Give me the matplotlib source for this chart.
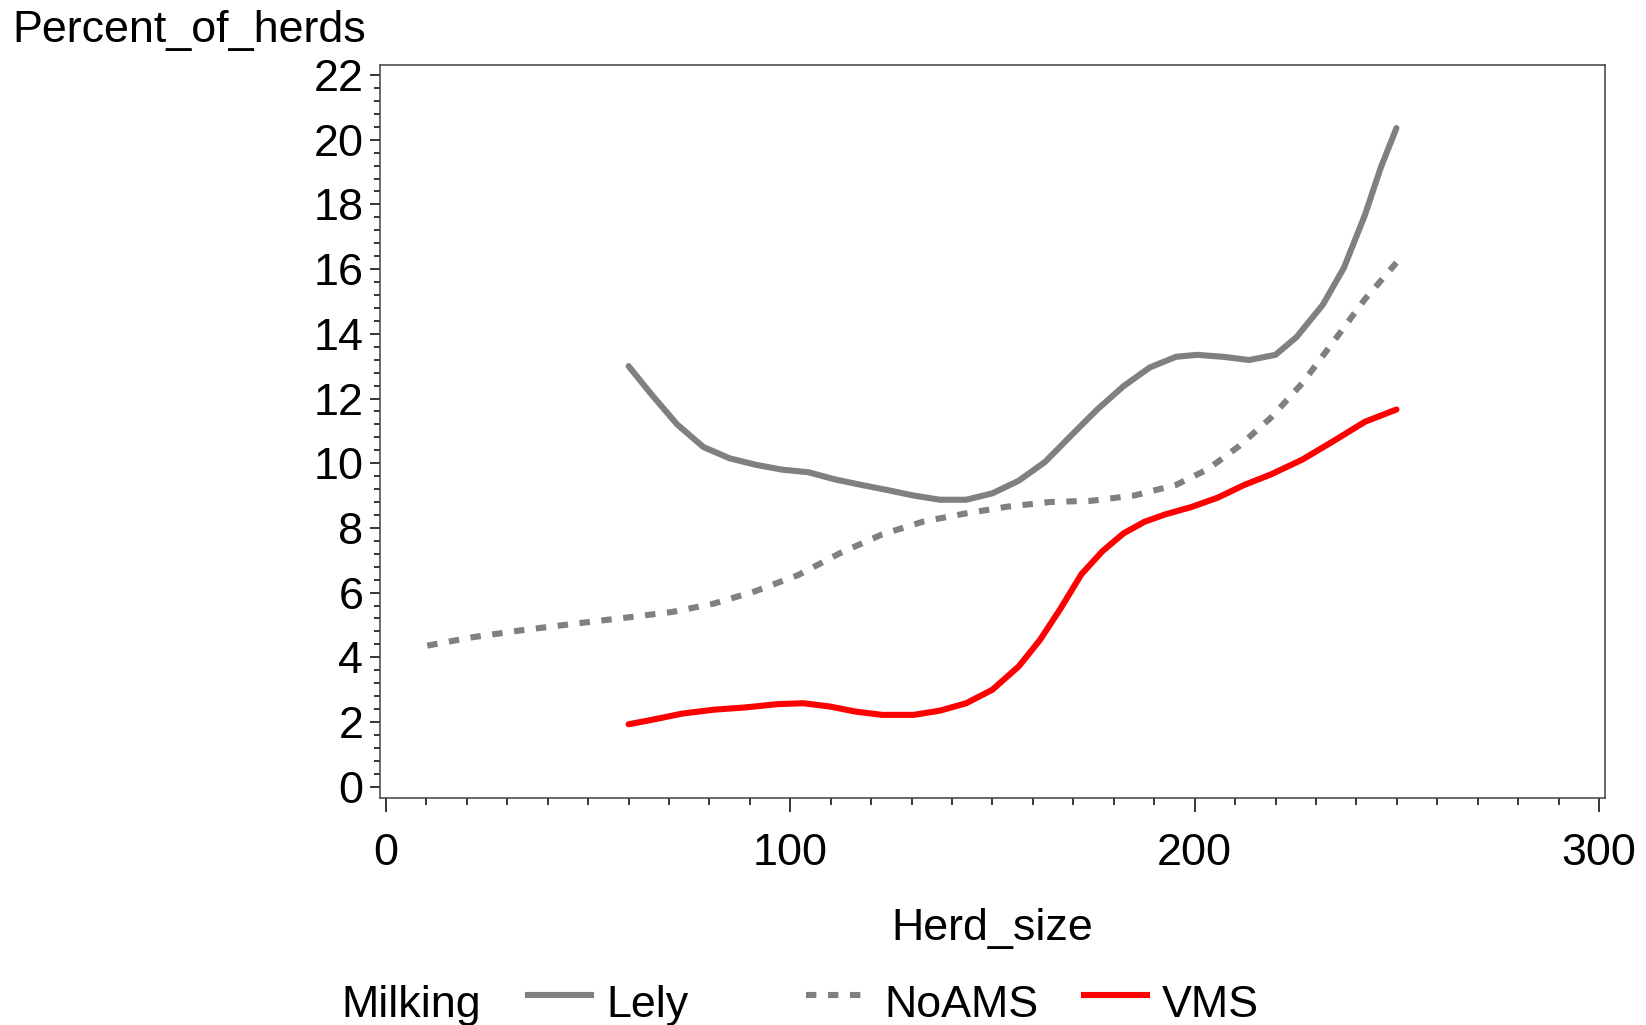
import matplotlib
matplotlib.use("Agg")
import matplotlib.pyplot as plt
from matplotlib.lines import Line2D
from matplotlib.ticker import MultipleLocator

plt.rcParams['font.family'] = ['Liberation Sans', 'DejaVu Sans']

# values
lely_x = [60, 65.5, 72, 78.5, 85, 91.5, 98, 104.5, 111, 117.5, 124, 130.5, 137, 143.5,
          150, 156.5, 163, 169.4, 175.9, 182.4, 188.9, 195.4, 200.6, 207, 213.5, 220,
          225.2, 231.7, 236.9, 242.1, 246, 249.9]
lely_y = [13.0, 12.15, 11.2, 10.5, 10.15, 9.95, 9.8, 9.72, 9.5, 9.33, 9.17, 9.0, 8.87, 8.87,
          9.07, 9.46, 10.04, 10.85, 11.66, 12.38, 12.96, 13.29, 13.35, 13.29, 13.19, 13.35,
          13.9, 14.9, 16.04, 17.67, 19.13, 20.36]

noams_x = [10.2, 21.4, 34.4, 47.4, 60.3, 70.7, 81.1, 91.5, 101.9, 112.3, 122.7, 133,
           143.5, 153.9, 164.2, 174.6, 185, 195.4, 203.2, 211, 218.8, 226.6, 234.4,
           242.1, 249.9]
noams_y = [4.36, 4.62, 4.85, 5.05, 5.24, 5.40, 5.66, 6.05, 6.54, 7.22, 7.8, 8.2,
           8.45, 8.66, 8.8, 8.84, 9.0, 9.33, 9.81, 10.53, 11.4, 12.47, 13.77,
           15.07, 16.2]

vms_x = [60, 65.5, 73.3, 81.1, 88.9, 96.7, 103.2, 109.7, 116.2, 122.7, 130.5, 137, 143.5,
         150, 156.5, 161.7, 166.8, 172, 177.2, 182.4, 187.6, 192.8, 199.3, 205.8, 212.3,
         218.8, 226.6, 234.4, 242.1, 249.9]
vms_y = [1.93, 2.06, 2.26, 2.38, 2.45, 2.55, 2.58, 2.48, 2.32, 2.22, 2.22, 2.35, 2.58,
         3.0, 3.72, 4.53, 5.5, 6.57, 7.28, 7.83, 8.19, 8.42, 8.65, 8.94, 9.33,
         9.65, 10.11, 10.69, 11.28, 11.66]

series = [("Lely", lely_x, lely_y, "#808080", "-"),
          ("NoAMS", noams_x, noams_y, "#808080", (0, (1.7, 1.9))),
          ("VMS", vms_x, vms_y, "#ff0000", "-")]

W, H = 1646, 1025
fs = 32.3
lw = 4.4

fig = plt.figure(figsize=(W / 100, H / 100), dpi=100)
ax = fig.add_axes([380 / W, 1 - 798 / H, (1605 - 380) / W, (798 - 65) / H])

for name, xs, ys, col, ls in series:
    ax.plot(xs, ys, color=col, linestyle=ls, lw=lw, solid_capstyle='round',
            dash_capstyle='butt', solid_joinstyle='round')

ax.set_xlim(-1.48, 301.48)
ax.set_ylim(-0.35, 22.31)
ax.xaxis.set_major_locator(MultipleLocator(100))
ax.xaxis.set_minor_locator(MultipleLocator(10))
ax.yaxis.set_major_locator(MultipleLocator(2))
ax.yaxis.set_minor_locator(MultipleLocator(0.4))
ax.tick_params(axis='x', which='major', length=10, width=1.1, pad=15, labelsize=fs)
ax.tick_params(axis='x', which='minor', length=5, width=1.1)
ax.tick_params(axis='y', which='major', length=7, width=1.1, pad=5, labelsize=fs)
ax.tick_params(axis='y', which='minor', length=4, width=1.1)
for s in ax.spines.values():
    s.set_color('#404040')
    s.set_linewidth(1.1)

fig.text(12.6 / W, 1 - 42 / H, "Percent_of_herds", fontsize=fs, va='baseline', ha='left')
fig.text(992.5 / W, 1 - 940 / H, "Herd_size", fontsize=fs, va='baseline', ha='center')

# legend along the bottom
fig.text(341 / W, 1 - 1017 / H, "Milking", fontsize=fs, va='baseline', ha='left')
col_x = 528
for name, xs, ys, col, ls in series:
    fig.add_artist(Line2D([col_x / W, (col_x + 63) / W], [1 - 995 / H, 1 - 995 / H],
                          color=col, linestyle=ls, lw=lw, dash_capstyle='butt',
                          transform=fig.transFigure))
    fig.text((col_x + 78) / W, 1 - 1017 / H, name, fontsize=fs, va='baseline', ha='left')
    col_x += 278

fig.savefig("out.png", dpi=100)
